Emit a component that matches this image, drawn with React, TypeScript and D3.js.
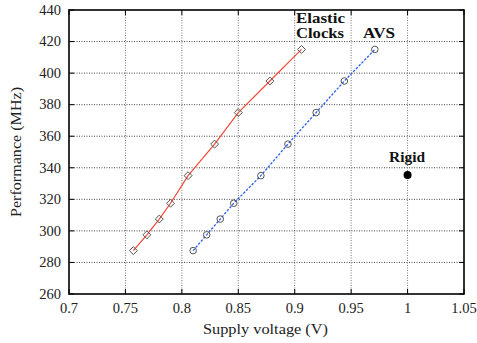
import React from "react";
import * as d3 from "d3";

const elasticV = [0.757, 0.769, 0.780, 0.790, 0.8055, 0.829, 0.850, 0.878, 0.906];
const elasticF = [287.5, 297.5, 307.5, 317.5, 335, 355, 375, 395, 415];
const avsV = [0.810, 0.822, 0.834, 0.846, 0.870, 0.894, 0.919, 0.944, 0.971];
const avsF = [287.5, 297.5, 307.5, 317.5, 335, 355, 375, 395, 415];
const rigidV = [1.0];
const rigidF = [335.5];
const xTicks = [0.7, 0.75, 0.8, 0.85, 0.9, 0.95, 1.0, 1.05];
const yTicks = [260, 280, 300, 320, 340, 360, 380, 400, 420, 440];
const xTickLabels = ["0.7", "0.75", "0.8", "0.85", "0.9", "0.95", "1", "1.05"];

const W = 477, H = 343;
const L = 69, R = 464, T = 10, B = 294;
const FONT = "'Liberation Serif', 'DejaVu Serif', serif";

export default function App() {
  const x = d3.scaleLinear().domain([0.7, 1.05]).range([L, R]);
  const y = d3.scaleLinear().domain([260, 440]).range([B, T]);
  const line = d3.line<[number, number]>().x(d => x(d[0])).y(d => y(d[1]));
  const el: [number, number][] = elasticV.map((v, i) => [v, elasticF[i]]);
  const av: [number, number][] = avsV.map((v, i) => [v, avsF[i]]);
  const diamond = d3.symbol().type(d3.symbolDiamond2).size(40)();

  return (
    <div style={{ position: "absolute", left: 0, top: 0 }}>
      <svg width={W} height={H} style={{ display: "block", background: "#fff" }} fontFamily={FONT}>
        {/* grid */}
        {xTicks.slice(1, -1).map(t => (
          <line key={"gx" + t} x1={x(t)} x2={x(t)} y1={T} y2={B} stroke="#777" strokeWidth={1} strokeDasharray="1,1.5" />
        ))}
        {yTicks.slice(1, -1).map(t => (
          <line key={"gy" + t} x1={L} x2={R} y1={y(t)} y2={y(t)} stroke="#444" strokeWidth={1} strokeDasharray="1,1.5" />
        ))}
        {/* ticks */}
        {xTicks.map(t => (
          <g key={"tx" + t}>
            <line x1={x(t)} x2={x(t)} y1={B} y2={B - 5} stroke="#000" />
            <line x1={x(t)} x2={x(t)} y1={T} y2={T + 5} stroke="#000" />
          </g>
        ))}
        {yTicks.map(t => (
          <g key={"ty" + t}>
            <line x1={L} x2={L + 5} y1={y(t)} y2={y(t)} stroke="#000" />
            <line x1={R} x2={R - 5} y1={y(t)} y2={y(t)} stroke="#000" />
          </g>
        ))}
        {/* series */}
        <path d={line(el) || ""} fill="none" stroke="#f24a38" strokeWidth={1.2} />
        <path d={line(av) || ""} fill="none" stroke="#2a5ef0" strokeWidth={1.3} strokeDasharray="2.5,1.5" />
        {el.map((d, i) => (
          <path key={"me" + i} d={diamond || ""} transform={`translate(${x(d[0])},${y(d[1])})`} fill="none" stroke="#555" strokeWidth={1} />
        ))}
        {av.map((d, i) => (
          <circle key={"ma" + i} cx={x(d[0])} cy={y(d[1])} r={3.3} fill="none" stroke="#555" strokeWidth={1} />
        ))}
        {rigidV.map((v, i) => (
          <circle key={"r" + i} cx={x(v)} cy={y(rigidF[i])} r={4} fill="#000" />
        ))}
        {/* frame */}
        <rect x={L} y={T} width={R - L} height={B - T} fill="none" stroke="#000" strokeWidth={1.6} />
        {/* tick labels */}
        {xTicks.map((t, i) => (
          <text key={"lx" + t} x={x(t)} y={313} textAnchor="middle" fontSize={14.5} fill="#222">{xTickLabels[i]}</text>
        ))}
        {yTicks.map(t => (
          <text key={"ly" + t} x={61} y={y(t) + 4.8} textAnchor="end" fontSize={14.5} fill="#222">{t}</text>
        ))}
        {/* axis labels */}
        <text x={203} y={334} fontSize={14.5} fill="#222" textLength={125} lengthAdjust="spacingAndGlyphs">Supply voltage (V)</text>
        <text transform="translate(21,217) rotate(-90)" fontSize={14.5} fill="#222" textLength={130} lengthAdjust="spacingAndGlyphs">Performance (MHz)</text>
        {/* annotations */}
        <text x={296} y={23} fontSize={14.5} fontWeight="bold" fill="#111" textLength={49} lengthAdjust="spacingAndGlyphs">Elastic</text>
        <text x={296} y={38} fontSize={14.5} fontWeight="bold" fill="#111" textLength={48} lengthAdjust="spacingAndGlyphs">Clocks</text>
        <text x={363} y={38} fontSize={14.5} fontWeight="bold" fill="#111" textLength={32} lengthAdjust="spacingAndGlyphs">AVS</text>
        <text x={389} y={162} fontSize={14.5} fontWeight="bold" fill="#111" textLength={36} lengthAdjust="spacingAndGlyphs">Rigid</text>
      </svg>
    </div>
  );
}
